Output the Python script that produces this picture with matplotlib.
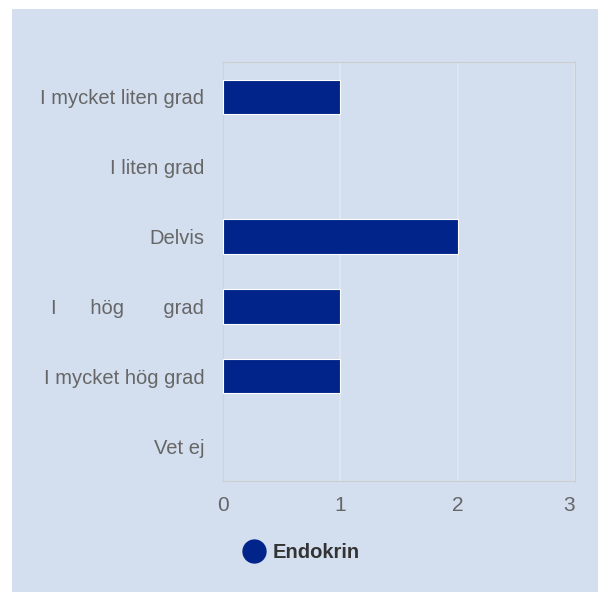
import matplotlib.pyplot as plt
from matplotlib.patches import Rectangle
from matplotlib.lines import Line2D

categories = ["I mycket liten grad", "I liten grad", "Delvis",
              "I      hög       grad", "I mycket hög grad", "Vet ej"]
values = [1, 0, 2, 1, 1, 0]
series_name = "Endokrin"
x_ticks = [0, 1, 2, 3]

bg = "#d3deef"
bar_color = "#00248a"
text_gray = "#666666"

plt.rcParams["font.family"] = ["Liberation Sans", "DejaVu Sans"]

fig = plt.figure(figsize=(5.98, 5.92), dpi=100)
fig.patch.set_facecolor("white")
fig.patches.append(Rectangle((12 / 598, 0), 1, 1 - 9 / 592, transform=fig.transFigure,
                             facecolor=bg, edgecolor="none", zorder=-5))

ax = fig.add_axes([223 / 598, 1 - 481 / 592, (575 - 223) / 598, (481 - 62) / 592])
ax.set_facecolor(bg)

y = list(range(len(categories)))
widths = [0.8 if v > 0 else 0 for v in values]
ax.barh(y, values, height=0.49, color=bar_color, edgecolor="white", linewidth=widths, zorder=3)

ax.set_xlim(0, 3)
ax.set_ylim(len(categories) - 0.5, -0.5)
ax.set_xticks(x_ticks)
ax.set_yticks(y)
ax.set_yticklabels(categories)
ax.grid(axis="x", color="#e2e7ef", linewidth=1.2, zorder=1)
ax.tick_params(length=0, colors=text_gray)
ax.tick_params(axis="y", pad=13.5, labelsize=14.5)
ax.tick_params(axis="x", pad=11, labelsize=15)
# last tick label kept inside the plot edge, as in the original
ax.get_xticklabels()[-1].set_horizontalalignment("right")
for side in ["top", "right", "bottom"]:
    ax.spines[side].set_color("#cccccc")
ax.spines["left"].set_color("#c9d3e2")

handle = Line2D([], [], marker="o", linestyle="none", markersize=16.5,
                markerfacecolor=bar_color, markeredgecolor=bar_color)
leg = fig.legend([handle], [series_name], loc="center left",
                 bbox_to_anchor=(216 / 598, 1 - 553 / 592), frameon=False,
                 handletextpad=-0.1, prop={"weight": "bold", "size": 14.5})
for t in leg.get_texts():
    t.set_color("#333333")

fig.savefig("out.png", dpi=100, facecolor=fig.get_facecolor())
